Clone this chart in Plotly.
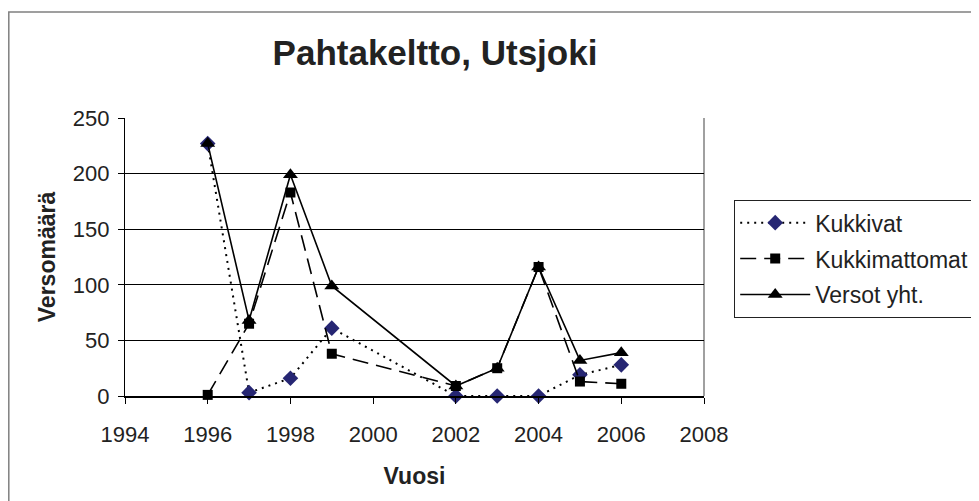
import plotly.graph_objects as go

years = [1996, 1997, 1998, 1999, 2002, 2003, 2004, 2005, 2006]
kukkivat = [227, 3, 16, 61, 0, 0, 0, 19, 28]
kukkimattomat = [1, 65, 183, 38, 9, 25, 116, 13, 11]
versot_yht = [227, 68, 199, 99, 9, 25, 116, 32, 39]

series_names = ["Kukkivat", "Kukkimattomat", "Versot yht."]
title_text = "Pahtakeltto, Utsjoki"
x_title = "Vuosi"
y_title = "Versomäärä"

FONT = "Liberation Sans, Arial, sans-serif"

# figure is placed at (8,8) in the page (body margin)
W, H = 971, 493
L, R, T, B = 117, 275, 110, 105
PW = W - L - R   # 579
PH = H - T - B   # 278

fig = go.Figure()
fig.add_trace(go.Scatter(
    x=years, y=kukkivat, name=series_names[0], mode="lines+markers",
    line=dict(color="black", width=2, dash="2px,5px"),
    marker=dict(symbol="diamond", size=12, color="#262673"),
    legendgroup="a", cliponaxis=False))
fig.add_trace(go.Scatter(
    x=years, y=kukkimattomat, name=series_names[1], mode="lines+markers",
    line=dict(color="black", width=1.6, dash="16px,8px"),
    marker=dict(symbol="square", size=10, color="black"),
    legendgroup="b", cliponaxis=False))
fig.add_trace(go.Scatter(
    x=years, y=versot_yht, name=series_names[2], mode="lines+markers",
    line=dict(color="black", width=1.6),
    marker=dict(symbol="triangle-up", size=13, color="black"),
    legendgroup="c", cliponaxis=False))

fig.update_layout(
    width=W, height=H,
    margin=dict(l=L, r=R, t=T, b=B, autoexpand=False),
    paper_bgcolor="white", plot_bgcolor="white",
    font=dict(family=FONT, size=22, color="#222222"),
    title=dict(text="<b>%s</b>" % title_text, x=427/W, xanchor="center",
               y=1-45/H, yanchor="middle",
               font=dict(family=FONT, size=35, color="#222222")),
    showlegend=True,
    legend=dict(x=(726-L)/PW, xanchor="left", y=(T+PH-192)/PH, yanchor="top",
                bgcolor="white", bordercolor="#222222", borderwidth=1.2,
                font=dict(family=FONT, size=23, color="#222222"),
                itemwidth=70, tracegroupgap=3, traceorder="grouped"),
    xaxis=dict(range=[1994, 2008], tickmode="linear", tick0=1994, dtick=2,
               showgrid=False, zeroline=False, showline=True, linecolor="black",
               linewidth=1.5, ticks="outside", ticklen=6, tickcolor="black",
               tickfont=dict(size=22), ticklabelstandoff=12,
               title=dict(text="<b>%s</b>" % x_title, standoff=22,
                          font=dict(size=23)),
               automargin=False),
    yaxis=dict(range=[0, 250], tickmode="linear", tick0=0, dtick=50,
               showgrid=True, gridcolor="black", gridwidth=1,
               zeroline=False, showline=True, linecolor="black", linewidth=1.2,
               ticks="outside", ticklen=6, tickcolor="black",
               tickfont=dict(size=22), ticklabelstandoff=4,
               title=dict(text="<b>%s</b>" % y_title, standoff=10,
                          font=dict(size=23)),
               automargin=False),
    shapes=[
        dict(type="rect", xref="paper", yref="paper",
             x0=(0.8-L)/PW, x1=1.6, y0=-0.6, y1=(T+PH-4)/PH,
             line=dict(color="#808080", width=1.5), layer="below"),
        dict(type="line", xref="paper", yref="paper", x0=1, x1=1, y0=0, y1=1,
             line=dict(color="#808080", width=1.5), layer="below"),
    ],
)

fig.write_html("out.html")
